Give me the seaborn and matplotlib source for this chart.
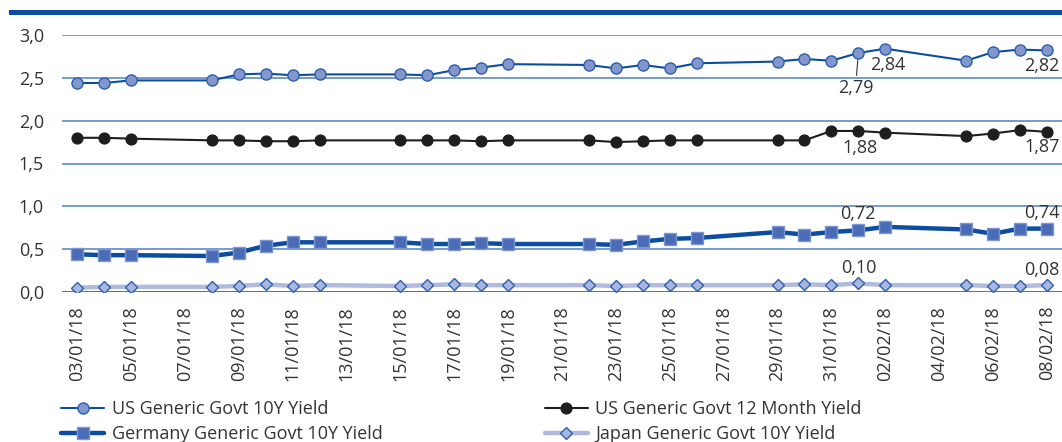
import pandas as pd
import matplotlib
matplotlib.use('Agg')
import matplotlib.pyplot as plt
import matplotlib.ticker as mticker
import seaborn as sns

# trading days shown in the chart
dates = ['2018-01-03', '2018-01-04', '2018-01-05', '2018-01-08', '2018-01-09',
         '2018-01-10', '2018-01-11', '2018-01-12', '2018-01-15', '2018-01-16',
         '2018-01-17', '2018-01-18', '2018-01-19', '2018-01-22', '2018-01-23',
         '2018-01-24', '2018-01-25', '2018-01-26', '2018-01-29', '2018-01-30',
         '2018-01-31', '2018-02-01', '2018-02-02', '2018-02-05', '2018-02-06',
         '2018-02-07', '2018-02-08']

us_10y = [2.44, 2.44, 2.47, 2.47, 2.54, 2.55, 2.53, 2.54, 2.54, 2.53,
          2.59, 2.62, 2.66, 2.65, 2.61, 2.65, 2.61, 2.67, 2.69, 2.72,
          2.70, 2.79, 2.84, 2.70, 2.80, 2.83, 2.82]
us_12m = [1.80, 1.80, 1.79, 1.77, 1.77, 1.76, 1.76, 1.77, 1.77, 1.77,
          1.77, 1.76, 1.77, 1.77, 1.75, 1.76, 1.77, 1.77, 1.77, 1.77,
          1.88, 1.88, 1.86, 1.82, 1.85, 1.89, 1.87]
de_10y = [0.44, 0.43, 0.43, 0.42, 0.46, 0.54, 0.58, 0.58, 0.58, 0.56,
          0.56, 0.57, 0.56, 0.56, 0.55, 0.59, 0.62, 0.63, 0.70, 0.67,
          0.70, 0.72, 0.76, 0.73, 0.68, 0.74, 0.74]
jp_10y = [0.05, 0.06, 0.06, 0.06, 0.07, 0.09, 0.07, 0.08, 0.07, 0.08,
          0.09, 0.08, 0.08, 0.08, 0.07, 0.08, 0.08, 0.08, 0.08, 0.09,
          0.08, 0.10, 0.08, 0.08, 0.07, 0.07, 0.08]

labels = ['US Generic Govt 10Y Yield', 'US Generic Govt 12 Month Yield',
          'Germany Generic Govt 10Y Yield', 'Japan Generic Govt 10Y Yield']

yticks = [0.0, 0.5, 1.0, 1.5, 2.0, 2.5, 3.0]

df = pd.DataFrame({'date': pd.to_datetime(dates), 'us10': us_10y, 'us12': us_12m,
                   'de10': de_10y, 'jp10': jp_10y})

sns.set_style('white')
plt.rcParams['font.family'] = ['Open Sans', 'DejaVu Sans']

blue = '#0c4da2'
txt = '#333333'
fs = 13

fig = plt.figure(figsize=(10.62, 4.42), dpi=100)
ax = fig.add_axes([62 / 1062, 1 - 292 / 442, 1 - 62 / 1062, (292 - 35) / 442])

for v in yticks:
    ax.axhline(v, color=blue if v == 0 else '#4f7fc2', lw=1.1, zorder=1)

sns.lineplot(data=df, x='date', y='us10', ax=ax, color=blue, lw=1.5, marker='o',
             markersize=8, markerfacecolor='#8497cd', markeredgecolor='#2c5fb0',
             markeredgewidth=1, label=labels[0], zorder=5)
sns.lineplot(data=df, x='date', y='us12', ax=ax, color='#1e1e1e', lw=1.5, marker='o',
             markersize=8, markerfacecolor='#1e1e1e', markeredgecolor='#1e1e1e',
             label=labels[1], zorder=5)
sns.lineplot(data=df, x='date', y='de10', ax=ax, color=blue, lw=3.2, marker='s',
             markersize=8.5, markerfacecolor='#4a6bb6', markeredgecolor='#7d95d0',
             markeredgewidth=1, label=labels[2], zorder=5)
sns.lineplot(data=df, x='date', y='jp10', ax=ax, color='#b0b9de', lw=3.2, marker='D',
             markersize=6.5, markerfacecolor='#a9b6e1', markeredgecolor='#2c5fb0',
             markeredgewidth=1, label=labels[3], zorder=5)

d0 = df['date'].iloc[0]
d1 = df['date'].iloc[-1]
ax.set_xlim(d0 - pd.Timedelta(days=0.56), d1 + pd.Timedelta(days=0.56))
ax.set_ylim(0, 3.0)
ax.set_yticks(yticks)
ax.yaxis.set_major_formatter(mticker.FuncFormatter(lambda v, p: f'{v:.1f}'.replace('.', ',')))
xt = pd.date_range(d0, d1, freq='2D')
ax.set_xticks(xt)
ax.set_xticklabels([d.strftime('%d/%m/%y') for d in xt], rotation=90)
ax.tick_params(axis='both', length=0, labelsize=fs, colors=txt)
ax.tick_params(axis='y', pad=13)
ax.tick_params(axis='x', pad=10)
ax.set_xlabel('')
ax.set_ylabel('')
for s in ax.spines.values():
    s.set_visible(False)


def fmt(v):
    return f'{v:.2f}'.replace('.', ',')


i_feb1 = dates.index('2018-02-01')
i_feb2 = dates.index('2018-02-02')
kw = dict(textcoords='offset points', ha='center', va='center', fontsize=fs, color=txt)
kr = dict(kw, ha='right')
ax.annotate(fmt(us_10y[i_feb1]), (df['date'][i_feb1], us_10y[i_feb1]), xytext=(-2, -25),
            arrowprops=dict(arrowstyle='-', color=txt, lw=0.8, shrinkA=0, shrinkB=5), **kw)
ax.annotate(fmt(us_10y[i_feb2]), (df['date'][i_feb2], us_10y[i_feb2]), xytext=(2, -12), **kw)
ax.annotate(fmt(us_12m[i_feb1]), (df['date'][i_feb1], us_12m[i_feb1]), xytext=(1, -12), **kw)
ax.annotate(fmt(de_10y[i_feb1]), (df['date'][i_feb1], de_10y[i_feb1]), xytext=(0, 12), **kw)
ax.annotate(fmt(jp_10y[i_feb1]), (df['date'][i_feb1], jp_10y[i_feb1]), xytext=(0, 11), **kw)
# last-point labels, kept inside the right edge
ax.annotate(fmt(us_10y[-1]), (d1, us_10y[-1]), xytext=(9, -11), **kr)
ax.annotate(fmt(us_12m[-1]), (d1, us_12m[-1]), xytext=(9, -11), **kr)
ax.annotate(fmt(de_10y[-1]), (d1, de_10y[-1]), xytext=(9, 11), **kr)
ax.annotate(fmt(jp_10y[-1]), (d1, jp_10y[-1]), xytext=(9, 11), **kr)

# legend: two columns below the chart
h, l = ax.get_legend_handles_labels()
order = [0, 2, 1, 3]
leg = ax.legend([h[i] for i in order], [l[i] for i in order], ncol=2, frameon=False,
                loc='upper left', bbox_to_anchor=(-0.001, -0.42), fontsize=fs,
                handlelength=2.4, handletextpad=0.4, columnspacing=9.0,
                labelspacing=0.4, borderaxespad=0, borderpad=0)
for t in leg.get_texts():
    t.set_color(txt)

# thick rule on top
fig.add_artist(plt.Rectangle((9 / 1062, 1 - 14.7 / 442), 1, 4.7 / 442,
                             transform=fig.transFigure, color=blue, lw=0))

fig.savefig('out.png', dpi=100)
